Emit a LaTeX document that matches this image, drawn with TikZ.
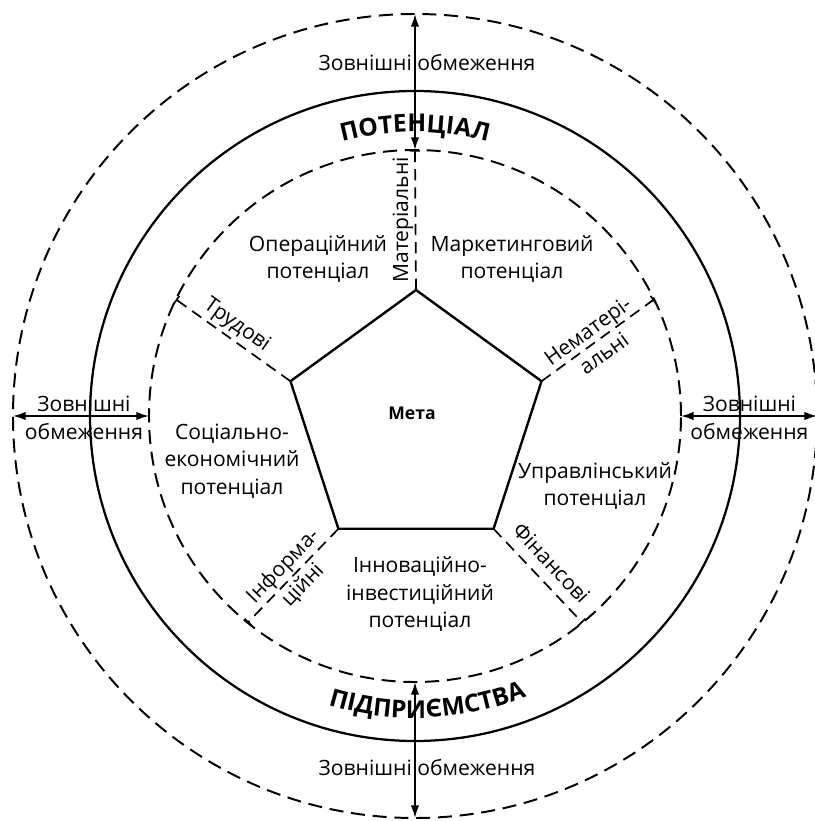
\documentclass[tikz,border=0pt]{standalone}
\usepackage{fontspec}
\setmainfont{Open Sans}
\usetikzlibrary{arrows.meta, shapes.geometric, decorations.text}

\tikzset{
  zone/.style={align=center, font=\fontsize{15}{19.6}\selectfont},
  res/.style={align=center, inner sep=0pt, font=\fontsize{15}{19.6}\selectfont},
  ring/.style={line width=1.6pt},
  dashring/.style={line width=1.4pt, dash pattern=on 10pt off 5.5pt},
  spoke/.style={line width=1.2pt, dash pattern=on 8pt off 5pt, -{Bar[width=7pt]}},
  limit/.style={line width=1.2pt, {Latex[length=9pt,width=6pt]}-{Latex[length=9pt,width=6pt]}},
}

\begin{document}
\begin{tikzpicture}
    \useasboundingbox (-10.375,-10.125) rectangle (9.975,10.4);
    \draw[dashring] (0,0) circle (10.05);
    \draw[ring] (0,0) circle (8.125);
    \draw[dashring] (0,0) circle (6.65);

    \node[regular polygon, regular polygon sides=5, minimum size=6.6cm, inner sep=0pt, outer sep=0pt, draw, line width=1.7pt] (goal) at (0.025,-0.15) {};
    \node[font=\fontsize{12.5}{14}\selectfont\bfseries] (aim) at (-0.075,0.075) {Мета};

    \foreach \c/\a in {1/90, 2/154, 3/231, 4/309, 5/26}
        \coordinate (s\c) at (\a:6.65);

    \draw[spoke] (goal.corner 1) -- (s1) node[res, midway, rotate=90, anchor=south, yshift=1pt] (mat) {Матеріальні};
    \draw[spoke] (goal.corner 2) -- (s2) node[res, pos=0.54, sloped, above=2pt] (lab) {Трудові};
    \draw[spoke] (goal.corner 3) -- (s3) node[res, midway, sloped] (inf) {Інформа-\\ційні};
    \draw[spoke] (goal.corner 4) -- (s4) node[res, midway, sloped, above=7pt] (fin) {Фінансові};
    \draw[spoke] (goal.corner 5) -- (s5) node[res, pos=0.48, sloped] (imm) {Нематері-\\альні};

    \foreach \a/\n in {90/N, 180/W, 270/S, 0/E}
        {\coordinate (o\n) at (\a:10.05);
         \coordinate (i\n) at (\a:6.65);
         \draw[limit] (o\n) -- (i\n);}

    \path[decorate, decoration={text along path, text align=center,
        text={|\fontsize{17.5}{20}\selectfont\bfseries|ПОТЕНЦІАЛ}}]
        (120:7.1) arc[start angle=120, end angle=60, radius=7.1];
    \path[decorate, decoration={text along path, text align=center,
        text={|\fontsize{17.5}{20}\selectfont\bfseries|ПІДПРИЄМСТВА}}]
        (242.5:7.55) arc[start angle=242.5, end angle=302.5, radius=7.55];

    \node[zone] (opr) at (-2.425,3.925) {Операційний\\потенціал};
    \node[zone] (mkt) at (2.425,3.925) {Маркетинговий\\потенціал};
    \node[zone] (soc) at (-4.575,-1.125) {Соціально-\\економічний\\потенціал};
    \node[zone] (mgm) at (4.5,-1.75) {Управлінський\\потенціал};
    \node[zone] (inv) at (0.125,-4.45) {Інноваційно-\\інвестиційний\\потенціал};

    \node[zone] (extN) at (0.3,8.825) {Зовнішні обмеження};
    \node[zone] (extS) at (0.3,-8.8) {Зовнішні обмеження};
    \node[zone] (extW) at (-8.275,-0.05) {Зовнішні\\обмеження};
    \node[zone] (extE) at (8.36,-0.05) {Зовнішні\\обмеження};
\end{tikzpicture}
\end{document}
